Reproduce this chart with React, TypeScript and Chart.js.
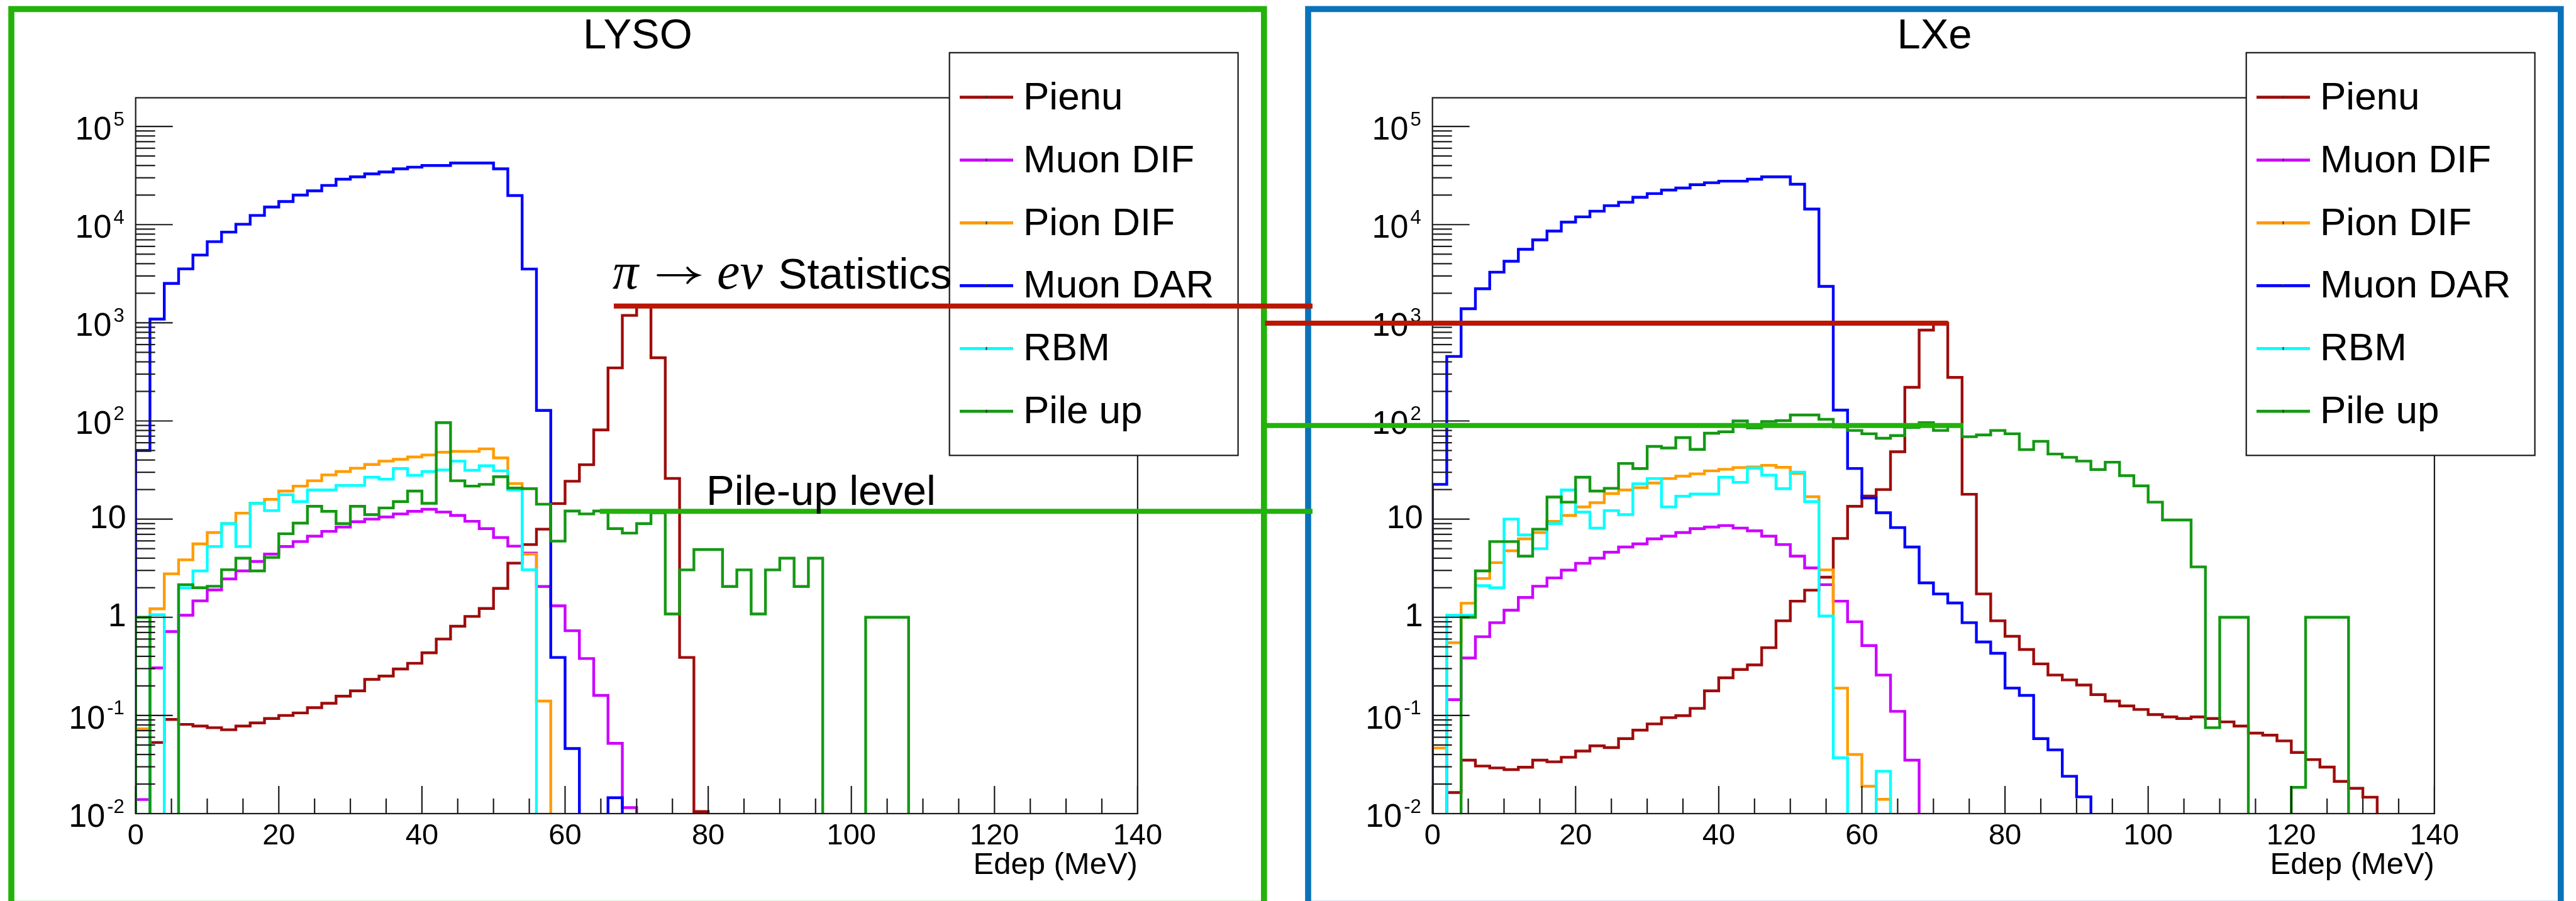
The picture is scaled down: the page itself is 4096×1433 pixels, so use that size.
import { useEffect, useRef } from "react";
import { Chart, registerables } from "chart.js";

Chart.register(...registerables);

// ---- binning / axis ranges ----
const BIN_WIDTH = 2; // MeV
const E_MIN = 0;
const E_MAX = 140;
const X_MAJOR_TICKS = [0, 20, 40, 60, 80, 100, 120, 140];
const X_MINOR_STEP = 5;
const COUNT_MIN = 1e-2;
const COUNT_MAX = 1.96e5;
const Y_DECADES = [-2, -1, 0, 1, 2, 3, 4, 5];
const BELOW_AXIS = 1e-4; // empty bins are drawn down past the frame floor

const SERIES_NAMES = ["Pienu", "Muon DIF", "Pion DIF", "Muon DAR", "RBM", "Pile up"];
const SERIES_COLORS = ["#9e0c0c", "#cc00ff", "#ff9c00", "#0000ff", "#00ffff", "#149814"];

// ---- LYSO spectra (counts per 2 MeV bin, bins 0..69) ----
const lysoPienu = [
  0, 0.053, 0.091, 0.081, 0.078, 0.075, 0.0715, 0.078, 0.084, 0.093,
  0.1, 0.106, 0.12, 0.133, 0.157, 0.178, 0.233, 0.252, 0.297, 0.34,
  0.435, 0.6, 0.81, 1.02, 1.23, 1.97, 3.56, 5.5, 7.9, 14.4,
  24.3, 35.8, 81, 347, 1190, 1480, 440, 26, 0.39, 0.0105,
  0, 0, 0, 0, 0, 0, 0, 0, 0, 0,
  0, 0, 0, 0, 0, 0, 0, 0, 0, 0,
  0, 0, 0, 0, 0, 0, 0, 0, 0, 0,
];
const lysoMuonDif = [
  0.0139, 0.305, 0.715, 1.05, 1.47, 1.9, 2.46, 2.97, 3.7, 4.4,
  5.25, 5.9, 6.7, 7.5, 8.3, 9.4, 10, 10.5, 11.3, 12,
  12.6, 11.8, 10.9, 9.5, 8.0, 6.5, 5.3, 4.5, 2.06, 1.31,
  0.73, 0.38, 0.16, 0.052, 0.0115, 0, 0, 0, 0, 0,
  0, 0, 0, 0, 0, 0, 0, 0, 0, 0,
  0, 0, 0, 0, 0, 0, 0, 0, 0, 0,
  0, 0, 0, 0, 0, 0, 0, 0, 0, 0,
];
const lysoPionDif = [
  0.073, 1.22, 2.77, 3.85, 5.6, 7.3, 9.0, 11.5, 14.5, 15.9,
  19.3, 21.7, 24.6, 28.2, 30.5, 33, 36, 39, 40.7, 43,
  45, 48, 49, 49, 52, 42, 23, 4.4, 0.14, 0,
  0, 0, 0, 0, 0, 0, 0, 0, 0, 0,
  0, 0, 0, 0, 0, 0, 0, 0, 0, 0,
  0, 0, 0, 0, 0, 0, 0, 0, 0, 0,
  0, 0, 0, 0, 0, 0, 0, 0, 0, 0,
];
const lysoMuonDar = [
  50, 1090, 2520, 3540, 4900, 6700, 8390, 10100, 12400, 15100,
  17200, 20000, 22100, 25100, 29000, 30700, 32900, 34400, 37000, 38500,
  40000, 40000, 42400, 42400, 42400, 37000, 19800, 3530, 128, 0.39,
  0.046, 0, 0, 0.0145, 0, 0, 0, 0, 0, 0,
  0, 0, 0, 0, 0, 0, 0, 0, 0, 0,
  0, 0, 0, 0, 0, 0, 0, 0, 0, 0,
  0, 0, 0, 0, 0, 0, 0, 0, 0, 0,
];
const lysoRbm = [
  0, 1.06, 0, 2.0, 2.97, 5.25, 9.0, 5.25, 14.5, 12.2,
  17.7, 15.1, 19.8, 19.8, 22, 22, 26.7, 25.5, 32.7, 27.9,
  30.5, 31.7, 39, 31.4, 35, 31, 19.8, 3.05, 0, 0,
  0, 0, 0, 0, 0, 0, 0, 0, 0, 0,
  0, 0, 0, 0, 0, 0, 0, 0, 0, 0,
  0, 0, 0, 0, 0, 0, 0, 0, 0, 0,
  0, 0, 0, 0, 0, 0, 0, 0, 0, 0,
];
const lysoPileUp = [
  1.0, 0, 0, 2.15, 2.0, 2.07, 3.05, 4.0, 2.97, 4.07,
  7.1, 9.1, 13.5, 12, 9.0, 13.5, 11.1, 13, 15.1, 19.3,
  14.5, 96, 24.6, 21.7, 22.6, 27, 20.7, 20.4, 14.2, 5.97,
  12.1, 11.3, 12.1, 8.0, 7.2, 9.0, 11.6, 1.08, 3.04, 4.9,
  4.9, 2.06, 3.04, 1.08, 3.04, 4.0, 2.06, 4.0, 0, 0,
  0, 1, 1, 1, 0, 0, 0, 0, 0, 0,
  0, 0, 0, 0, 0, 0, 0, 0, 0, 0,
];

// ---- LXe spectra ----
const lxePienu = [
  0, 0.0164, 0.035, 0.0305, 0.0292, 0.0281, 0.0297, 0.035, 0.0337, 0.0375,
  0.0434, 0.049, 0.047, 0.058, 0.0708, 0.082, 0.095, 0.0995, 0.118, 0.178,
  0.242, 0.294, 0.327, 0.49, 0.92, 1.46, 1.89, 2.56, 6.35, 13.5,
  17.2, 20, 48.5, 220, 843, 990, 278, 17.9, 1.73, 0.92,
  0.64, 0.47, 0.335, 0.258, 0.23, 0.204, 0.163, 0.14, 0.125, 0.115,
  0.102, 0.0966, 0.093, 0.0966, 0.093, 0.086, 0.078, 0.066, 0.063, 0.055,
  0.042, 0.0355, 0.0298, 0.0213, 0.0181, 0.0147, 0, 0, 0, 0,
];
const lxeMuonDif = [
  0, 0.145, 0.385, 0.634, 0.88, 1.18, 1.59, 2.07, 2.52, 3.02,
  3.55, 4.0, 4.6, 5.2, 5.6, 6.3, 6.7, 7.3, 8.0, 8.3,
  8.6, 8.1, 7.6, 6.7, 5.5, 4.2, 3.18, 2.15, 1.46, 0.9,
  0.515, 0.258, 0.11, 0.035, 0, 0, 0, 0, 0, 0,
  0, 0, 0, 0, 0, 0, 0, 0, 0, 0,
  0, 0, 0, 0, 0, 0, 0, 0, 0, 0,
  0, 0, 0, 0, 0, 0, 0, 0, 0, 0,
];
const lxePionDif = [
  0.0466, 0.55, 1.39, 2.48, 3.6, 4.76, 6.3, 7.3, 9.5, 10.9,
  13.3, 14.7, 18.2, 19.8, 20.9, 23.3, 25.9, 27.4, 28.9, 31,
  32.2, 33.5, 34, 35.3, 33.7, 29.3, 16.9, 3.04, 0.19, 0.04,
  0.019, 0.014, 0, 0, 0, 0, 0, 0, 0, 0,
  0, 0, 0, 0, 0, 0, 0, 0, 0, 0,
  0, 0, 0, 0, 0, 0, 0, 0, 0, 0,
  0, 0, 0, 0, 0, 0, 0, 0, 0, 0,
];
const lxeMuonDar = [
  22.6, 454, 1390, 2220, 3280, 4240, 5610, 7000, 8600, 10600,
  12000, 13700, 15600, 16900, 19000, 20700, 22500, 23600, 25500, 26700,
  27700, 27700, 29000, 30700, 30700, 25800, 14400, 2350, 129, 32.8,
  16.4, 11.6, 8.2, 5.2, 2.24, 1.73, 1.4, 0.88, 0.56, 0.43,
  0.19, 0.16, 0.058, 0.0446, 0.024, 0.0148, 0, 0, 0, 0,
  0, 0, 0, 0, 0, 0, 0, 0, 0, 0,
  0, 0, 0, 0, 0, 0, 0, 0, 0, 0,
];
const lxeRbm = [
  0, 1.05, 1.05, 2.1, 2.0, 10.0, 6.9, 5.0, 9.0, 19.8,
  11.8, 8.1, 12.2, 11.1, 22.9, 25.9, 13.3, 17.1, 18, 18,
  26.7, 23.7, 33.1, 28, 20.4, 30.1, 15.1, 1.03, 0.037, 0,
  0, 0.027, 0, 0, 0, 0, 0, 0, 0, 0,
  0, 0, 0, 0, 0, 0, 0, 0, 0, 0,
  0, 0, 0, 0, 0, 0, 0, 0, 0, 0,
  0, 0, 0, 0, 0, 0, 0, 0, 0, 0,
];
const lxePileUp = [
  0, 0, 1.0, 2.97, 5.9, 5.9, 4.2, 7.9, 16.8, 14.9,
  26.7, 19.3, 20.6, 36.9, 32.7, 55, 53, 67.6, 51.3, 75,
  77.6, 100, 85, 98.6, 100.7, 115, 115, 104, 87, 80,
  74, 66.6, 71, 86, 96, 80, 90, 69, 72, 80,
  74, 51, 62, 46, 42.6, 39, 32, 38, 27.7, 21.8,
  14.9, 9.8, 9.8, 3.26, 0.075, 1.0, 1.0, 0, 0, 0,
  0.0185, 1.0, 1.0, 1.0, 0, 0, 0, 0, 0, 0,
];

// pile-up reference levels marked across both panels
const PILEUP_LEVEL_LYSO = 12;
const PILEUP_LEVEL_LXE = 90;

// ---- page layout (px) ----
const PAGE_W = 4096;
const PAGE_H = 1433;
const PANEL_X = [0, 2062];
const PANEL_W = [2062, 2034];
const PLOT_LEFT = 215.7;
const PLOT_TOP = 155.5;
const PLOT_W = 1593.2;
const PLOT_BOTTOM_GAP = 139;

const SANS = '"Liberation Sans", Arial, Helvetica, sans-serif';
const SERIF = '"Liberation Serif", "Times New Roman", serif';

const FRAME = { color: "#1a1a1a", width: 2.2, yMajor: 59, yMinor: 31, xMajor: 44, xMinor: 24 };
const LABELS = { yFont: 52, yExpFont: 31, xFont: 47, titleFont: 49 };
const BOX = { left: 18, top: 14.4, right: 2009.8, bottom: 1437.6, width: 9.6 };
const TITLE = { x: 1014, baseline: 77, font: 67 };
const LEGEND = {
  left: 1509.7, top: 83.8, right: 1968.6, bottom: 724.3,
  firstRow: 154.7, rowStep: 99.9, lineX0: 1526, lineX1: 1611, textX: 1627, font: 62, textDy: 19,
};
const HIST_LINE_WIDTH = 4.4;
const ANNOT = {
  red: "#ba1700",
  green: "#22b20a",
  width: 8,
  statsLine: [976, 2087], statsLineLXe: [2011.5, 3097.5],
  pileLine: [953.6, 2087], pileLineLXe: [2011.5, 3121.6],
};

type Pt = { x: number; y: number };

function histOutline(values: number[]): Pt[] {
  const level = (v: number) => (v > 0 ? v : BELOW_AXIS);
  const pts: Pt[] = [{ x: E_MIN, y: BELOW_AXIS }];
  values.forEach((v, i) => {
    const x0 = E_MIN + i * BIN_WIDTH;
    pts.push({ x: x0, y: level(v) }, { x: x0 + BIN_WIDTH, y: level(v) });
  });
  pts.push({ x: E_MIN + values.length * BIN_WIDTH, y: BELOW_AXIS });
  return pts;
}

function seg(ctx: CanvasRenderingContext2D, x0: number, y0: number, x1: number, y1: number) {
  ctx.beginPath();
  ctx.moveTo(x0, y0);
  ctx.lineTo(x1, y1);
  ctx.stroke();
}

function makeRootPlugin(title: string, boxColor: string) {
  return {
    id: "rootFrame",
    afterDraw(chart: Chart) {
      const { ctx, chartArea: a } = chart;
      const xs = chart.scales.x;
      const ys = chart.scales.y;
      ctx.save();

      // frame and ticks
      ctx.strokeStyle = FRAME.color;
      ctx.lineWidth = FRAME.width;
      ctx.lineCap = "butt";
      ctx.strokeRect(a.left, a.top, a.right - a.left, a.bottom - a.top);
      for (let v = E_MIN; v <= E_MAX + 1e-9; v += X_MINOR_STEP) {
        const px = xs.getPixelForValue(v);
        const len = X_MAJOR_TICKS.includes(v) ? FRAME.xMajor : FRAME.xMinor;
        seg(ctx, px, a.bottom, px, a.bottom - len);
      }
      for (const d of Y_DECADES) {
        for (let m = 1; m <= 9; m++) {
          const v = m * Math.pow(10, d);
          if (v < COUNT_MIN * 0.999 || v > COUNT_MAX) continue;
          const py = ys.getPixelForValue(v);
          seg(ctx, a.left, py, a.left + (m === 1 ? FRAME.yMajor : FRAME.yMinor), py);
        }
      }

      // tick labels
      ctx.fillStyle = "#000";
      ctx.textBaseline = "alphabetic";
      ctx.textAlign = "center";
      ctx.font = `${LABELS.xFont}px ${SANS}`;
      for (const v of X_MAJOR_TICKS) {
        ctx.fillText(String(v), xs.getPixelForValue(v), a.bottom + 49);
      }
      ctx.textBaseline = "middle";
      for (const d of Y_DECADES) {
        const py = ys.getPixelForValue(Math.pow(10, d));
        if (d === 0 || d === 1) {
          ctx.textAlign = "right";
          ctx.font = `${LABELS.yFont}px ${SANS}`;
          ctx.fillText(d === 0 ? "1" : "10", a.left - 15, py);
        } else {
          ctx.textAlign = "left";
          ctx.font = `${LABELS.yExpFont}px ${SANS}`;
          const expText = String(d);
          const expW = ctx.measureText(expText).width;
          ctx.font = `${LABELS.yFont}px ${SANS}`;
          const baseW = ctx.measureText("10").width;
          const x0 = a.left - 18 - expW - 3 - baseW;
          ctx.fillText("10", x0, py + 6.5);
          ctx.font = `${LABELS.yExpFont}px ${SANS}`;
          ctx.fillText(expText, x0 + baseW + 3, py - 10);
        }
      }
      ctx.textBaseline = "alphabetic";
      ctx.textAlign = "right";
      ctx.font = `${LABELS.titleFont}px ${SANS}`;
      ctx.fillText("Edep (MeV)", a.right, a.bottom + 96);

      // legend
      ctx.fillStyle = "#fff";
      ctx.fillRect(LEGEND.left, LEGEND.top, LEGEND.right - LEGEND.left, LEGEND.bottom - LEGEND.top);
      ctx.strokeStyle = FRAME.color;
      ctx.lineWidth = 2.2;
      ctx.strokeRect(LEGEND.left, LEGEND.top, LEGEND.right - LEGEND.left, LEGEND.bottom - LEGEND.top);
      ctx.font = `${LEGEND.font}px ${SANS}`;
      ctx.textAlign = "left";
      SERIES_NAMES.forEach((name, i) => {
        const ry = LEGEND.firstRow + i * LEGEND.rowStep;
        ctx.strokeStyle = SERIES_COLORS[i];
        ctx.lineWidth = 4.8;
        seg(ctx, LEGEND.lineX0, ry, LEGEND.lineX1, ry);
        ctx.fillStyle = "#333";
        const mx = (LEGEND.lineX0 + LEGEND.lineX1) / 2;
        ctx.fillRect(mx - 1, ry - 2.4, 2, 4.8);
        ctx.fillStyle = "#000";
        ctx.fillText(name, LEGEND.textX, ry + LEGEND.textDy);
      });

      // title and panel box
      ctx.textAlign = "center";
      ctx.font = `${TITLE.font}px ${SANS}`;
      ctx.fillStyle = "#000";
      ctx.fillText(title, TITLE.x, TITLE.baseline);
      ctx.strokeStyle = boxColor;
      ctx.lineWidth = BOX.width;
      ctx.strokeRect(BOX.left, BOX.top, BOX.right - BOX.left, BOX.bottom - BOX.top);
      ctx.restore();
    },
  };
}

function makePanel(canvas: HTMLCanvasElement, title: string, boxColor: string, series: number[][], width: number) {
  return new Chart(canvas, {
    type: "line",
    data: {
      datasets: series.map((vals, i) => ({
        label: SERIES_NAMES[i],
        data: histOutline(vals),
        borderColor: SERIES_COLORS[i],
        backgroundColor: SERIES_COLORS[i],
        borderWidth: HIST_LINE_WIDTH,
        borderJoinStyle: "miter" as const,
        borderCapStyle: "butt" as const,
        pointRadius: 0,
        fill: false,
        tension: 0,
        clip: 0,
        order: SERIES_NAMES.length - i,
      })),
    },
    options: {
      responsive: false,
      animation: false,
      devicePixelRatio: 1,
      events: [],
      layout: {
        padding: {
          left: PLOT_LEFT,
          top: PLOT_TOP,
          right: width - PLOT_LEFT - PLOT_W,
          bottom: PLOT_BOTTOM_GAP,
        },
      },
      scales: {
        x: { type: "linear", min: E_MIN, max: E_MAX, display: false },
        y: { type: "logarithmic", min: COUNT_MIN, max: COUNT_MAX, display: false },
      },
      plugins: { legend: { display: false }, tooltip: { enabled: false }, title: { display: false } },
    },
    plugins: [makeRootPlugin(title, boxColor)],
  } as any);
}

function drawAnnotations(canvas: HTMLCanvasElement, lyso: Chart, lxe: Chart) {
  const ctx = canvas.getContext("2d")!;
  ctx.clearRect(0, 0, canvas.width, canvas.height);
  const yLyso = (v: number) => lyso.scales.y.getPixelForValue(v);
  const yLxe = (v: number) => lxe.scales.y.getPixelForValue(v);
  const statsLyso = Math.max(...lysoPienu);
  const statsLxe = Math.max(...lxePienu);

  ctx.lineWidth = ANNOT.width;
  ctx.lineCap = "butt";
  ctx.strokeStyle = ANNOT.red;
  seg(ctx, ANNOT.statsLine[0], yLyso(statsLyso), ANNOT.statsLine[1], yLyso(statsLyso));
  seg(ctx, ANNOT.statsLineLXe[0], yLxe(statsLxe), ANNOT.statsLineLXe[1], yLxe(statsLxe));
  ctx.strokeStyle = ANNOT.green;
  seg(ctx, ANNOT.pileLine[0], yLyso(PILEUP_LEVEL_LYSO), ANNOT.pileLine[1], yLyso(PILEUP_LEVEL_LYSO));
  seg(ctx, ANNOT.pileLineLXe[0], yLxe(PILEUP_LEVEL_LXE), ANNOT.pileLineLXe[1], yLxe(PILEUP_LEVEL_LXE));

  // "π → eν Statistics"
  ctx.fillStyle = "#000";
  ctx.textAlign = "left";
  ctx.textBaseline = "alphabetic";
  const base = 458.8;
  ctx.font = `italic 82px ${SERIF}`;
  ctx.fillText("π", 974, base);
  // arrow
  const ay = base - 21;
  ctx.strokeStyle = "#000";
  ctx.lineWidth = 3.6;
  ctx.lineCap = "round";
  seg(ctx, 1046, ay, 1108, ay);
  ctx.beginPath();
  ctx.moveTo(1093, ay - 12);
  ctx.quadraticCurveTo(1100, ay - 3, 1110, ay);
  ctx.quadraticCurveTo(1100, ay + 3, 1093, ay + 12);
  ctx.stroke();
  ctx.font = `italic 82px ${SERIF}`;
  ctx.fillText("eν", 1140, base);
  ctx.font = `69px ${SANS}`;
  ctx.fillText("Statistics", 1237.4, base);
  ctx.font = `67px ${SANS}`;
  ctx.fillText("Pile-up level", 1123, 803);
}

export default function App() {
  const lysoRef = useRef<HTMLCanvasElement>(null);
  const lxeRef = useRef<HTMLCanvasElement>(null);
  const overlayRef = useRef<HTMLCanvasElement>(null);

  useEffect(() => {
    const lyso = makePanel(
      lysoRef.current!, "LYSO", "#22b20a",
      [lysoPienu, lysoMuonDif, lysoPionDif, lysoMuonDar, lysoRbm, lysoPileUp], PANEL_W[0]);
    const lxe = makePanel(
      lxeRef.current!, "LXe", "#0a72ba",
      [lxePienu, lxeMuonDif, lxePionDif, lxeMuonDar, lxeRbm, lxePileUp], PANEL_W[1]);
    const overlay = overlayRef.current!;
    drawAnnotations(overlay, lyso, lxe);
    return () => {
      lyso.destroy();
      lxe.destroy();
      overlay.getContext("2d")!.clearRect(0, 0, overlay.width, overlay.height);
    };
  }, []);

  const abs = (left: number, w: number) => ({
    position: "absolute" as const, left, top: 0, width: w, height: PAGE_H, display: "block",
  });

  return (
    <div style={{ position: "absolute", left: 0, top: 0, width: PAGE_W, height: PAGE_H, background: "#fff", overflow: "hidden" }}>
      <canvas ref={lysoRef} width={PANEL_W[0]} height={PAGE_H} style={abs(PANEL_X[0], PANEL_W[0])} />
      <canvas ref={lxeRef} width={PANEL_W[1]} height={PAGE_H} style={abs(PANEL_X[1], PANEL_W[1])} />
      <canvas ref={overlayRef} width={PAGE_W} height={PAGE_H} style={{ ...abs(0, PAGE_W), pointerEvents: "none" }} />
    </div>
  );
}
